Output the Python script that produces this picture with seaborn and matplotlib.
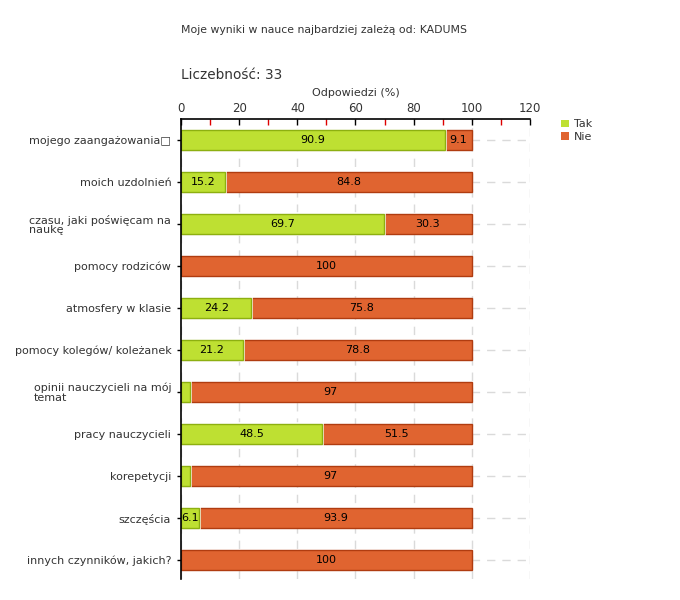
import matplotlib
matplotlib.use("Agg")
import matplotlib.pyplot as plt
import seaborn as sns
import pandas as pd
import numpy as np
from matplotlib.ticker import MultipleLocator
from matplotlib.patches import Patch

categories = [
    "mojego zaangażowania□",
    "moich uzdolnień",
    "czasu, jaki poświęcam na\nnaukę",
    "pomocy rodziców",
    "atmosfery w klasie",
    "pomocy kolegów/ koleżanek",
    "opinii nauczycieli na mój\ntemat",
    "pracy nauczycieli",
    "korepetycji",
    "szczęścia",
    "innych czynników, jakich?",
]
tak = [90.9, 15.2, 69.7, 0, 24.2, 21.2, 3.0, 48.5, 3.0, 6.1, 0]
nie = [9.1, 84.8, 30.3, 100, 75.8, 78.8, 97, 51.5, 97, 93.9, 100]
series_names = ["Tak", "Nie"]
title = "Moje wyniki w nauce najbardziej zależą od: KADUMS"
count_label = "Liczebność: 33"
xlabel = "Odpowiedzi (%)"

GREEN = "#BEE032"
GREEN_E = "#8DB010"
ORANGE = "#E06430"
ORANGE_E = "#B03C10"
TXT = "#333333"

sns.set_theme(style="white")
plt.rcParams["font.family"] = ["DejaVu Sans"]

df = pd.DataFrame({"cat": categories, "Tak": tak, "Nie": nie})
df["total"] = df["Tak"] + df["Nie"]

fig = plt.figure(figsize=(6.8, 6.0), dpi=100)
ax = fig.add_axes([181 / 680, 1 - 579 / 600, (530 - 181) / 680, (579 - 119) / 600])
ax.set_axisbelow(True)

# Nie (stacked total) underneath
sns.barplot(data=df, y="cat", x="total", orient="h", color=ORANGE, width=0.48,
            edgecolor=ORANGE_E, linewidth=1, ax=ax, saturation=1)
n_red = len(ax.patches)
# white separator halo for the segment gap
sns.barplot(data=df, y="cat", x="Tak", orient="h", color="white", width=0.48,
            edgecolor="white", linewidth=2.6, ax=ax, saturation=1)
n_white = len(ax.patches)
# Tak on top
sns.barplot(data=df, y="cat", x="Tak", orient="h", color=GREEN, width=0.48,
            edgecolor=GREEN_E, linewidth=1, ax=ax, saturation=1)

for p in ax.patches:
    if p.get_width() == 0:
        p.set_visible(False)

def fmt(v):
    s = f"{v:.1f}"
    return s[:-2] if s.endswith(".0") else s

for i, (t, n) in enumerate(zip(tak, nie)):
    if t >= 5:
        ax.text(t / 2, i, fmt(t), ha="center", va="center", fontsize=8, color="black", zorder=5)
    if n >= 5:
        ax.text(t + n / 2, i, fmt(n), ha="center", va="center", fontsize=8, color="black", zorder=5)

ax.set_xlim(0, 120)
ax.set_ylim(10.45, -0.5)
ax.xaxis.set_major_locator(MultipleLocator(20))
ax.xaxis.set_minor_locator(MultipleLocator(10))
ax.xaxis.tick_top()
ax.xaxis.set_label_position("top")
ax.set_xlabel(xlabel, fontsize=8, color=TXT, labelpad=4)
ax.set_ylabel("")

ax.grid(axis="x", which="major", color="#dadada", linestyle=(0, (6, 5)), linewidth=1)
ax.grid(axis="y", which="major", color="#dadada", linestyle=(0, (6, 5)), linewidth=1)

for s in ["right", "bottom"]:
    ax.spines[s].set_visible(False)
for s in ["top", "left"]:
    ax.spines[s].set_visible(True)
    ax.spines[s].set_color("black")
    ax.spines[s].set_linewidth(1.2)
    ax.spines[s].set_zorder(6)

ax.tick_params(axis="x", which="major", direction="in", length=4, width=1, color="black",
               labelsize=8.5, labelcolor=TXT, top=True, bottom=False, pad=3)
ax.tick_params(axis="x", which="minor", direction="in", length=4, width=1, color="#dd0000",
               top=True, bottom=False)
ax.tick_params(axis="y", which="major", direction="inout", length=6, width=1, color="black",
               labelsize=8, labelcolor=TXT, left=True, pad=4)
for lbl in ax.get_yticklabels():
    lbl.set_multialignment("left")
    lbl.set_linespacing(0.9)

fig.text(181 / 680, 1 - 30 / 600, title, fontsize=7.8, color=TXT, ha="left", va="center")
fig.text(181 / 680, 1 - 75 / 600, count_label, fontsize=9.8, color=TXT, ha="left", va="center")

handles = [Patch(facecolor=GREEN, edgecolor="none"), Patch(facecolor=ORANGE, edgecolor="none")]
leg = fig.legend(handles, series_names, loc="upper left", bbox_to_anchor=(557 / 680, 1 - 115 / 600),
                 frameon=False, fontsize=8, handlelength=0.7, handleheight=0.7,
                 handletextpad=0.4, labelspacing=0.2, borderaxespad=0)
for t in leg.get_texts():
    t.set_color(TXT)

fig.savefig("out.png", dpi=100)
